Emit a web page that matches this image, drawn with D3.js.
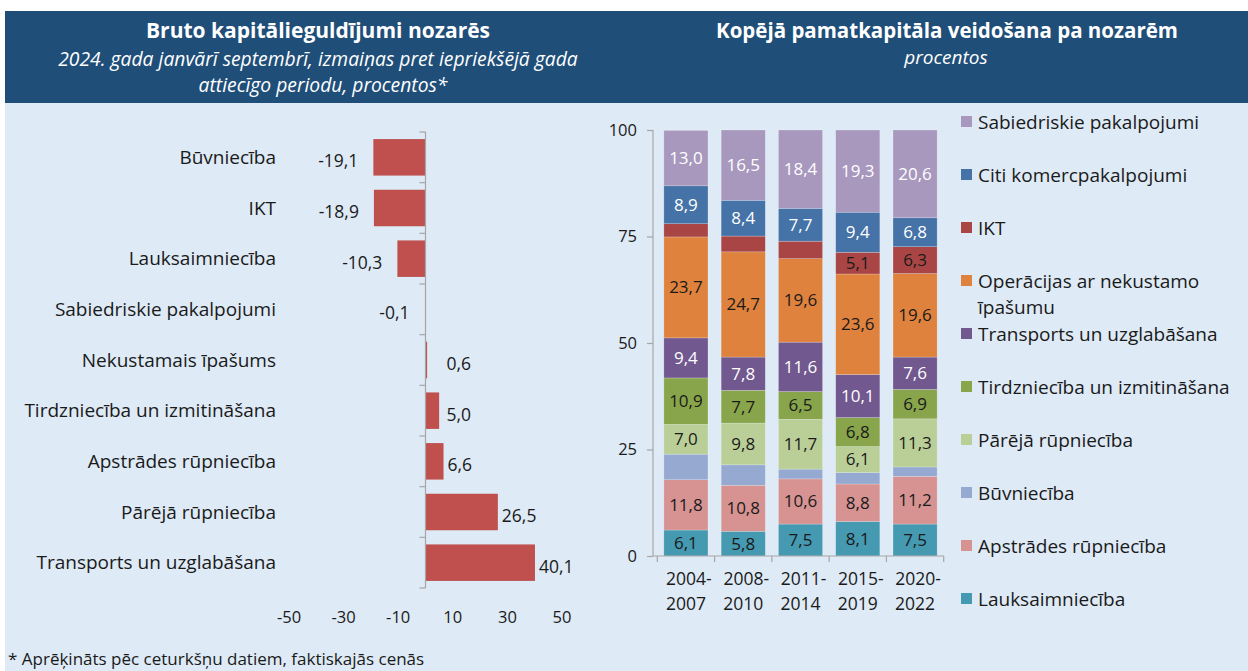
<!DOCTYPE html>
<html><head><meta charset="utf-8">
<script src="https://cdn.jsdelivr.net/npm/d3@7"></script>
<style>
body{margin:0;background:#fff;}
svg text{font-family:"Open Sans",Lato,sans-serif;}
</style></head>
<body>
<svg id="c" width="1248" height="671"></svg>
<script>
// ---------- Data: left chart ----------
const leftCategories = ["Būvniecība","IKT","Lauksaimniecība","Sabiedriskie pakalpojumi","Nekustamais īpašums","Tirdzniecība un izmitināšana","Apstrādes rūpniecība","Pārējā rūpniecība","Transports un uzglabāšana"];
const leftValues = [-19.1,-18.9,-10.3,-0.1,0.6,5.0,6.6,26.5,40.1];
const leftTicks = [-50,-30,-10,10,30,50];

// ---------- Data: right chart (stack order bottom -> top) ----------
const periods = ["2004-2007","2008-2010","2011-2014","2015-2019","2020-2022"];
const sectors = ["Lauksaimniecība","Apstrādes rūpniecība","Būvniecība","Pārējā rūpniecība","Tirdzniecība un izmitināšana","Transports un uzglabāšana","Operācijas ar nekustamo īpašumu","IKT","Citi komercpakalpojumi","Sabiedriskie pakalpojumi"];
const lauksaimnieciba = [6.1,5.8,7.5,8.1,7.5];
const apstrades = [11.8,10.8,10.6,8.8,11.2];
const buvnieciba = [6.0,4.8,2.3,2.7,2.2];
const parejaRupn = [7.0,9.8,11.7,6.1,11.3];
const tirdznieciba = [10.9,7.7,6.5,6.8,6.9];
const transports = [9.4,7.8,11.6,10.1,7.6];
const operacijas = [23.7,24.7,19.6,23.6,19.6];
const ikt = [3.1,3.7,4.1,5.1,6.3];
const citi = [8.9,8.4,7.7,9.4,6.8];
const sabiedriskie = [13.0,16.5,18.4,19.3,20.6];
const rightTicks = [0,25,50,75,100];

const seriesValues = [lauksaimnieciba,apstrades,buvnieciba,parejaRupn,tirdznieciba,transports,operacijas,ikt,citi,sabiedriskie];
const seriesColors = ["#4599B0","#D69392","#95A9D1","#BACF97","#88A54B","#71588F","#DE823E","#A94645","#4573A8","#A898BE"];
const whiteLabel = [false,false,false,false,false,true,false,false,true,true];
const legendLabels = ["Sabiedriskie pakalpojumi","Citi komercpakalpojumi","IKT","Operācijas ar nekustamo|īpašumu","Transports un uzglabāšana","Tirdzniecība un izmitināšana","Pārējā rūpniecība","Būvniecība","Apstrādes rūpniecība","Lauksaimniecība"];

const fmt = v => v.toFixed(1).replace(".", ",");
const svg = d3.select("#c");
const ink = "#1a1a1a";

// backgrounds
svg.append("rect").attr("x",5).attr("y",103).attr("width",1243).attr("height",568).attr("fill","#DEEAF6");
svg.append("rect").attr("x",5).attr("y",11).attr("width",1243).attr("height",92).attr("fill","#1F4E79");

// headers
svg.append("text").attr("x",318).attr("y",38).attr("text-anchor","middle").attr("fill","#fff")
  .attr("font-size",21).attr("font-weight","bold").text("Bruto kapitālieguldījumi nozarēs");
svg.append("text").attr("x",318).attr("y",66).attr("text-anchor","middle").attr("fill","#fff")
  .attr("font-size",19.3).attr("font-style","italic").text("2024. gada janvārī septembrī, izmaiņas pret iepriekšējā gada");
svg.append("text").attr("x",323).attr("y",92).attr("text-anchor","middle").attr("fill","#fff")
  .attr("font-size",19.3).attr("font-style","italic").text("attiecīgo periodu, procentos*");
svg.append("text").attr("x",947).attr("y",38).attr("text-anchor","middle").attr("fill","#fff")
  .attr("font-size",20.5).attr("font-weight","bold").text("Kopējā pamatkapitāla veidošana pa nozarēm");
svg.append("text").attr("x",946).attr("y",64).attr("text-anchor","middle").attr("fill","#fff")
  .attr("font-size",19).attr("font-style","italic").text("procentos");

// ---------- Left chart ----------
const xL = d3.scaleLinear().domain([-50,50]).range([289,562]);
const yL = d3.scaleBand().domain(leftCategories).range([132,588]).paddingInner(0.28).paddingOuter(0.14);
const gL = svg.append("g");
gL.selectAll("rect.bar").data(leftCategories).join("rect")
  .attr("x",(d,i)=>Math.min(xL(0),xL(leftValues[i])))
  .attr("width",(d,i)=>Math.abs(xL(leftValues[i])-xL(0)))
  .attr("y",d=>yL(d)).attr("height",yL.bandwidth()).attr("fill","#C0504D");
// vertical axis at zero with category ticks
gL.append("line").attr("x1",xL(0)).attr("x2",xL(0)).attr("y1",132).attr("y2",588).attr("stroke","#A6A6A6").attr("stroke-width",1.2);
const bounds = d3.range(leftCategories.length+1).map(i=>132+i*(456/leftCategories.length));
gL.selectAll("line.tk").data(bounds).join("line").attr("x1",xL(0)-6).attr("x2",xL(0))
  .attr("y1",d=>d).attr("y2",d=>d).attr("stroke","#A6A6A6").attr("stroke-width",1.2);
// category labels
gL.selectAll("text.cat").data(leftCategories).join("text")
  .attr("x",276).attr("y",d=>yL(d)+yL.bandwidth()/2).attr("dy","0.35em")
  .attr("text-anchor","end").attr("font-size",19).attr("fill",ink).text(d=>d);
// value labels
gL.selectAll("text.val").data(leftValues).join("text")
  .attr("x",v=> v<0 ? Math.min(xL(v)-15, xL(0)-16) : Math.max(xL(v)+4, xL(0)+21))
  .attr("text-anchor",v=> v<0 ? "end":"start")
  .attr("y",(v,i)=>yL(leftCategories[i])+yL.bandwidth()/2+4).attr("dy","0.35em")
  .attr("font-size",17.5).attr("fill",ink).text(v=>fmt(v));
// x tick labels
gL.selectAll("text.xt").data(leftTicks).join("text")
  .attr("x",d=>xL(d)).attr("y",617).attr("dy","0.35em").attr("text-anchor","middle")
  .attr("font-size",16.5).attr("fill",ink).text(d=>String(d));

// footer
svg.append("text").attr("x",8).attr("y",659).attr("dy","0.35em").attr("font-size",17).attr("fill",ink)
  .text("* Aprēķināts pēc ceturkšņu datiem, faktiskajās cenās");

// ---------- Right chart ----------
const xR = d3.scaleBand().domain(periods).range([657,944]).paddingInner(0.23).paddingOuter(0.12);
const yR = d3.scaleLinear().domain([0,100]).range([556,130]);
const table = periods.map((p,i)=>{const o={period:p}; sectors.forEach((s,j)=>o[s]=seriesValues[j][i]); return o;});
const stacked = d3.stack().keys(sectors)(table);
const gR = svg.append("g");
stacked.forEach((layer,j)=>{
  gR.selectAll(null).data(layer).join("rect")
    .attr("x",d=>xR(d.data.period)).attr("width",xR.bandwidth())
    .attr("y",d=>yR(d[1])).attr("height",d=>yR(d[0])-yR(d[1]))
    .attr("fill",seriesColors[j]).attr("stroke","rgba(255,255,255,0.35)").attr("stroke-width",0.6);
  gR.selectAll(null).data(layer.filter((d,i)=>sectors[j]!=="Būvniecība" && seriesValues[j][i]>=5)).join("text")
    .attr("x",d=>xR(d.data.period)+xR.bandwidth()/2)
    .attr("y",d=>yR((d[0]+d[1])/2)).attr("dy","0.35em").attr("text-anchor","middle")
    .attr("font-size",17).attr("fill",whiteLabel[j]?"#fff":ink)
    .text(d=>fmt(d[1]-d[0]));
});
// y axis
const yAx = gR.append("g").attr("transform","translate(653,0)")
  .call(d3.axisLeft(yR).tickValues(rightTicks).tickSize(6).tickPadding(10).tickFormat(d=>String(d)));
yAx.select(".domain").attr("stroke","#A6A6A6").attr("stroke-width",1.2).attr("d","M0,130V556");
yAx.selectAll(".tick line").attr("stroke","#A6A6A6").attr("stroke-width",1.2);
yAx.selectAll(".tick text").attr("font-size",16.5).attr("fill",ink).attr("font-family","'Open Sans',sans-serif");
// x axis line with band boundary ticks
gR.append("line").attr("x1",653).attr("x2",944).attr("y1",556).attr("y2",556).attr("stroke","#A6A6A6").attr("stroke-width",1.2);
const step = xR.step();
const xb = d3.range(periods.length+1).map(i=>xR(periods[0]) - xR.step()*xR.paddingInner()/2 + i*step);
gR.selectAll("line.xb").data(xb).join("line").attr("x1",d=>d).attr("x2",d=>d).attr("y1",556).attr("y2",562)
  .attr("stroke","#A6A6A6").attr("stroke-width",1.2);
// period labels (two lines)
periods.forEach(p=>{
  const parts = p.split("-");
  const t = gR.append("text").attr("text-anchor","middle").attr("font-size",17.5).attr("fill",ink);
  t.append("tspan").attr("x",xR(p)+xR.bandwidth()/2+3).attr("y",585).text(parts[0]+"-");
  t.append("tspan").attr("x",xR(p)+xR.bandwidth()/2).attr("y",610).text(parts[1]);
});
// legend (top -> bottom)
const legColors = seriesColors.slice().reverse();
const lg = svg.append("g");
legendLabels.forEach((lab,i)=>{
  const yy = 122 + i*53;
  lg.append("rect").attr("x",961).attr("y",yy-6).attr("width",11).attr("height",11).attr("fill",legColors[i]);
  const lines = lab.split("|");
  lines.forEach((ln,k)=>{
    lg.append("text").attr("x",978).attr("y",yy+k*26).attr("dy","0.35em").attr("font-size",19).attr("fill",ink).text(ln);
  });
});
</script>
</body></html>
